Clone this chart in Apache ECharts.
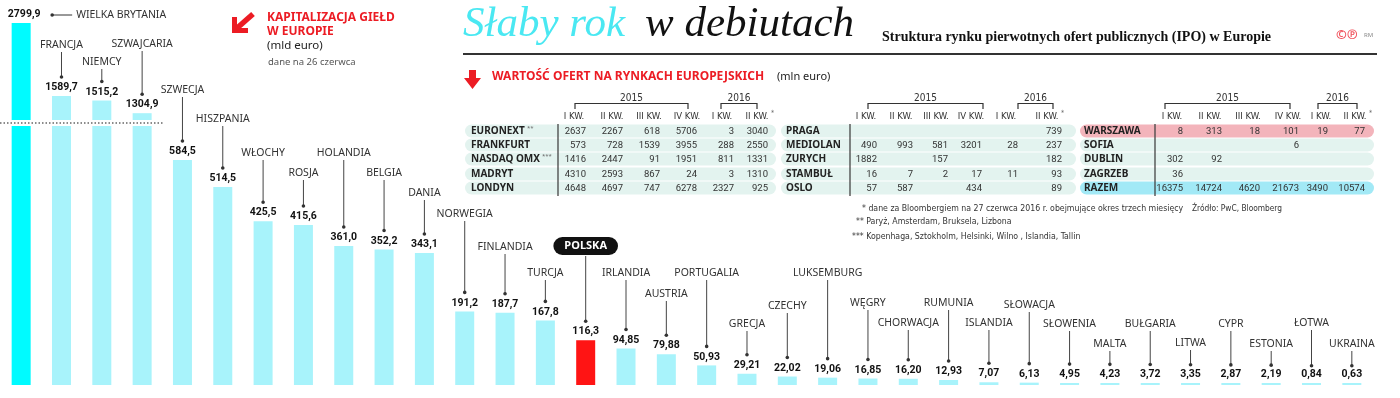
<!DOCTYPE html>
<html>
<head>
<meta charset="utf-8">
<script src="https://cdn.jsdelivr.net/npm/echarts@6/dist/echarts.min.js"></script>
<style>
  html, body { margin: 0; padding: 0; background: #fff; }
  #chart { width: 1400px; height: 398px; }
</style>
</head>
<body>
<div id="chart"></div>
<script>
// kapitalizacja gield (mld euro)
var countries = ['WIELKA BRYTANIA', 'FRANCJA', 'NIEMCY', 'SZWAJCARIA', 'SZWECJA', 'HISZPANIA', 'WŁOCHY', 'ROSJA',
    'HOLANDIA', 'BELGIA', 'DANIA', 'NORWEGIA', 'FINLANDIA', 'TURCJA', 'POLSKA', 'IRLANDIA', 'AUSTRIA', 'PORTUGALIA',
    'GRECJA', 'CZECHY', 'LUKSEMBURG', 'WĘGRY', 'CHORWACJA', 'RUMUNIA', 'ISLANDIA', 'SŁOWACJA', 'SŁOWENIA', 'MALTA',
    'BUŁGARIA', 'LITWA', 'CYPR', 'ESTONIA', 'ŁOTWA', 'UKRAINA'];
var capitalization = [2799.9, 1589.7, 1515.2, 1304.9, 584.5, 514.5, 425.5, 415.6, 361.0, 352.2, 343.1, 191.2, 187.7,
    167.8, 116.3, 94.85, 79.88, 50.93, 29.21, 22.02, 19.06, 16.85, 16.20, 12.93, 7.07, 6.13, 4.95, 4.23, 3.72, 3.35,
    2.87, 2.19, 0.84, 0.63];

// wartosc ofert (mln euro), kolumny: 2015 I-IV kw., 2016 I-II kw.
var quarters = ['I KW.', 'II KW.', 'III KW.', 'IV KW.', 'I KW.', 'II KW.'];
var exchangesA = ['EURONEXT', 'FRANKFURT', 'NASDAQ OMX', 'MADRYT', 'LONDYN'];
var offersA = [
    [2637, 2267, 618, 5706, 3, 3040],
    [573, 728, 1539, 3955, 288, 2550],
    [1416, 2447, 91, 1951, 811, 1331],
    [4310, 2593, 867, 24, 3, 1310],
    [4648, 4697, 747, 6278, 2327, 925]
];
var exchangesB = ['PRAGA', 'MEDIOLAN', 'ZURYCH', 'STAMBUŁ', 'OSLO'];
var offersB = [
    [null, null, null, null, null, 739],
    [490, 993, 581, 3201, 28, 237],
    [1882, null, 157, null, null, 182],
    [16, 7, 2, 17, 11, 93],
    [57, 587, null, 434, null, 89]
];
var exchangesC = ['WARSZAWA', 'SOFIA', 'DUBLIN', 'ZAGRZEB', 'RAZEM'];
var offersC = [
    [8, 313, 18, 101, 19, 77],
    [null, null, null, 6, null, null],
    [302, 92, null, null, null, null],
    [36, null, null, null, null, null],
    [16375, 14724, 4620, 21673, 3490, 10574]
];

// layout: pixel height of each country name
var nameY = [15, 45, 62, 44, 90, 119, 153, 173, 153, 173, 193, 214, 247, 273, 246, 273, 294, 273, 324, 306, 273,
    303, 323, 303, 323, 305, 324, 344, 324, 343, 324, 344, 323, 344];

var LOW_MAX = 673, HIGH_MIN = 1192, HIGH_MAX = 3182;
var RED = '#ec1c24';
var NARROW = "'DejaVu Sans Condensed', Roboto, sans-serif";
var NUM = "Roboto, 'DejaVu Sans Condensed', sans-serif";
var SANS = "'Noto Sans', 'Open Sans', sans-serif";

var fmt = function (v) {
    return v.toFixed(v >= 100 ? 1 : 2).replace('.', ',');
};
var barColor = function (i) {
    if (i === 0) return '#00fbff';
    if (countries[i] === 'POLSKA') return '#ff1414';
    return '#a8f3fb';
};

var lowData = capitalization.map(function (v, i) {
    return {value: v, itemStyle: {color: barColor(i)}, label: {show: v <= LOW_MAX}};
});
var highData = capitalization.map(function (v, i) {
    return {value: v, itemStyle: {color: barColor(i)}, label: {show: v >= HIGH_MIN, offset: i === 0 ? [3, 0] : [0, 0]}};
});
var leaderData = capitalization.map(function (v, i) { return [i, v]; });

var leaderRenderer = function (inRange) {
    return function (params, api) {
        var i = api.value(0), v = api.value(1);
        if (!inRange(v)) return null;
        var p = api.coord([i, v]);
        var x = p[0], tipY = p[1] - 19, ny = nameY[i];
        var c = [];
        if (i === 0) {
            c.push({type: 'circle', shape: {cx: x + 31, cy: ny, r: 1.8}, style: {fill: '#333'}});
            c.push({type: 'line', shape: {x1: x + 31, y1: ny, x2: x + 51, y2: ny}, style: {stroke: '#333', lineWidth: 1}});
            c.push({type: 'text', x: x + 55, y: ny, style: {text: countries[i], font: '10.5px ' + SANS, fill: '#333',
                textAlign: 'left', textVerticalAlign: 'middle'}});
            return {type: 'group', children: c};
        }
        var pill = countries[i] === 'POLSKA';
        var lineStart = ny + (pill ? 10 : 7);
        c.push({type: 'line', shape: {x1: x, y1: lineStart, x2: x, y2: tipY}, style: {stroke: '#444', lineWidth: 1}});
        c.push({type: 'circle', shape: {cx: x, cy: tipY, r: 1.8}, style: {fill: '#333'}});
        if (pill) {
            c.push({type: 'text', x: x, y: ny, style: {text: countries[i], font: 'bold 11px ' + SANS, fill: '#fff',
                textAlign: 'center', textVerticalAlign: 'middle', backgroundColor: '#111', padding: [4, 11, 3, 11],
                borderRadius: 10}});
        } else {
            c.push({type: 'text', x: x, y: ny, style: {text: countries[i], font: '10.5px ' + SANS, fill: '#333',
                textAlign: 'center', textVerticalAlign: 'middle'}});
        }
        return {type: 'group', children: c};
    };
};

var graphics = [];
var txt = function (x, y, text, font, fill, align) {
    graphics.push({type: 'text', x: x, y: y, silent: true, style: {text: text, font: font, fill: fill || '#333',
        textAlign: align || 'left', textVerticalAlign: 'middle'}});
};
var line = function (x1, y1, x2, y2, stroke, w, dash) {
    graphics.push({type: 'line', silent: true, shape: {x1: x1, y1: y1, x2: x2, y2: y2},
        style: {stroke: stroke, lineWidth: w, lineDash: dash || null}});
};

// break of the axis
line(0, 123, 163, 123, '#666', 1.5, [1.5, 2]);

// left header
graphics.push({type: 'polygon', shape: {points: [[232, 17], [237, 17], [237, 28], [248, 28], [248, 33], [232, 33]]},
    style: {fill: RED}});
line(236, 29, 253, 14, RED, 5.5);
txt(267, 18, 'KAPITALIZACJA GIEŁD', 'bold 12px ' + SANS, RED);
txt(267, 32, 'W EUROPIE', 'bold 12px ' + SANS, RED);
txt(267, 46, '(mld euro)', '11.5px ' + SANS, '#222');
txt(268, 62, 'dane na 26 czerwca', '9.5px ' + SANS, '#555');

// title
txt(463, 25, 'Słaby rok', 'italic 43px "Liberation Serif", serif', '#4ae8f2');
txt(645, 25, 'w debiutach', 'italic 43px "Liberation Serif", serif', '#111');
txt(882, 37, 'Struktura rynku pierwotnych ofert publicznych (IPO) w Europie', 'bold 14px "Liberation Serif", serif', '#111');
txt(1336, 35, '©℗', 'bold 13px ' + SANS, '#f0505a');
txt(1364, 35, 'RM', '6px ' + SANS, '#888');
line(463, 54, 1377, 54, '#333', 2);

// second header
graphics.push({type: 'polygon', shape: {points: [[469, 70], [476, 70], [476, 78], [481, 78], [472.5, 89], [464, 78], [469, 78]]},
    style: {fill: RED}});
txt(492, 77, 'WARTOŚĆ OFERT NA RYNKACH EUROPEJSKICH', 'bold 12px ' + SANS, RED);
txt(777, 77, '(mln euro)', '11px ' + SANS, '#222');

// tables
var rowY = [131, 145, 159, 174, 188];
var drawTable = function (t) {
    txt((t.b15[0] + t.b15[1]) / 2, 98, '2015', '10px ' + NARROW, '#333', 'center');
    txt((t.b16[0] + t.b16[1]) / 2, 98, '2016', '10px ' + NARROW, '#333', 'center');
    [t.b15, t.b16].forEach(function (b) {
        graphics.push({type: 'polyline', silent: true, shape: {points: [[b[0], 109], [b[0], 103.5], [b[1], 103.5], [b[1], 109]]},
            style: {stroke: '#333', lineWidth: 1.2, fill: null}});
    });
    quarters.forEach(function (q, k) {
        txt(t.headX[k], 117, q, '9.5px ' + NARROW, '#333', 'center');
    });
    txt(t.headX[5] + 14, 113, '*', '7px ' + NARROW, '#666', 'left');
    t.names.forEach(function (name, r) {
        var bg = '#e3f3ef';
        if (name === 'WARSZAWA') bg = '#f3b4bb';
        if (name === 'RAZEM') bg = '#a2e9f6';
        graphics.push({type: 'rect', silent: true, shape: {x: t.x0, y: rowY[r] - 6.5, width: t.x1 - t.x0, height: 13, r: 6.5},
            style: {fill: bg}});
        txt(t.labelX, rowY[r], name, 'bold 10px ' + SANS, '#222');
        if (t.sup[r]) txt(t.labelX + t.supX[r], rowY[r] - 3, t.sup[r], '6px ' + SANS, '#666');
        t.rows[r].forEach(function (v, k) {
            if (v !== null) txt(t.colR[k], rowY[r] + 0.5, String(v), '9.5px ' + NUM, '#333', 'right');
        });
    });
    line(t.sep, 124, t.sep, 196, '#444', 1.3);
};
drawTable({x0: 465, x1: 776, labelX: 471, sep: 558, names: exchangesA, rows: offersA,
    sup: ['**', '', '***', '', ''], supX: [56, 0, 71, 0, 0],
    colR: [586, 623, 660, 697, 734, 768], headX: [574, 612, 649, 687, 722, 757], b15: [575, 688], b16: [721, 757]});
drawTable({x0: 781, x1: 1076, labelX: 786, sep: 850, names: exchangesB, rows: offersB, sup: [], supX: [],
    colR: [877, 913, 948, 982, 1018, 1062], headX: [866, 901, 936, 971, 1006, 1047], b15: [868, 983], b16: [1018, 1053]});
drawTable({x0: 1080, x1: 1374, labelX: 1084, sep: 1155, names: exchangesC, rows: offersC, sup: [], supX: [],
    colR: [1183, 1222, 1260, 1299, 1328, 1365], headX: [1172, 1210, 1248, 1288, 1321, 1355], b15: [1165, 1290], b16: [1318, 1357]});

// footnotes
txt(862, 209, '* dane za Bloombergiem na 27 czerwca 2016 r. obejmujące okres trzech miesięcy', '8.7px ' + NARROW, '#333');
txt(1192, 209, 'Źródło: PwC, Bloomberg', '8.3px ' + NARROW, '#333');
txt(856, 222, '** Paryż, Amsterdam, Bruksela, Lizbona', '8.7px ' + NARROW, '#333');
txt(852, 237, '*** Kopenhaga, Sztokholm, Helsinki, Wilno , Islandia, Tallin', '8.7px ' + NARROW, '#333');

var valueLabel = {
    position: 'top',
    distance: 3,
    color: '#111',
    fontFamily: NUM,
    fontWeight: 'bold',
    fontSize: 10.5,
    formatter: function (p) { return fmt(p.value); }
};

var chart = echarts.init(document.getElementById('chart'));
chart.setOption({
    animation: false,
    backgroundColor: '#fff',
    grid: [
        {left: 1, right: 28, top: 126, bottom: 13},
        {left: 1, right: 28, top: 0, height: 120}
    ],
    xAxis: [
        {type: 'category', data: countries, gridIndex: 0, show: false},
        {type: 'category', data: countries, gridIndex: 1, show: false}
    ],
    yAxis: [
        {type: 'value', gridIndex: 0, min: 0, max: LOW_MAX, show: false},
        {type: 'value', gridIndex: 1, min: HIGH_MIN, max: HIGH_MAX, show: false}
    ],
    graphic: graphics,
    series: [
        {type: 'bar', xAxisIndex: 0, yAxisIndex: 0, data: lowData, barWidth: 19, barMinHeight: 2,
            clip: true, label: valueLabel},
        {type: 'bar', xAxisIndex: 1, yAxisIndex: 1, data: highData, barWidth: 19, clip: true, label: valueLabel},
        {type: 'custom', xAxisIndex: 0, yAxisIndex: 0, data: leaderData, z: 5,
            renderItem: leaderRenderer(function (v) { return v <= LOW_MAX; })},
        {type: 'custom', xAxisIndex: 1, yAxisIndex: 1, data: leaderData, z: 5,
            renderItem: leaderRenderer(function (v) { return v >= HIGH_MIN; })}
    ]
});
</script>
</body>
</html>
